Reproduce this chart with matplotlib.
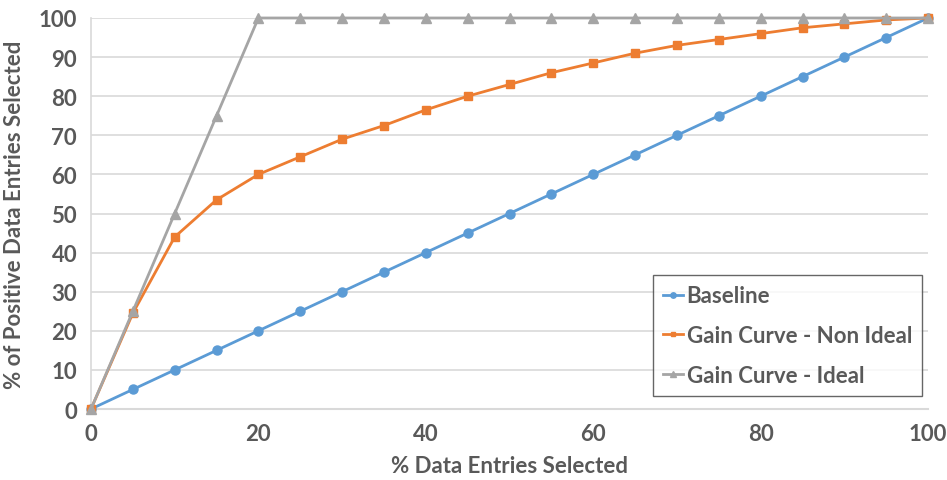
import matplotlib
matplotlib.use('Agg')
import matplotlib.pyplot as plt

# Dati
x_pct = [0, 5, 10, 15, 20, 25, 30, 35, 40, 45, 50, 55, 60, 65, 70, 75, 80, 85, 90, 95, 100]
baseline = [0, 5, 10, 15, 20, 25, 30, 35, 40, 45, 50, 55, 60, 65, 70, 75, 80, 85, 90, 95, 100]
non_ideal = [0, 24.5, 44, 53.5, 60, 64.5, 69, 72.5, 76.5, 80, 83, 86, 88.5, 91, 93, 94.5, 96, 97.5, 98.5, 99.5, 100]
ideal = [0, 25, 50, 75, 100, 100, 100, 100, 100, 100, 100, 100, 100, 100, 100, 100, 100, 100, 100, 100, 100]
x_ticks = [0, 20, 40, 60, 80, 100]
y_ticks = [0, 10, 20, 30, 40, 50, 60, 70, 80, 90, 100]

plt.rcParams['font.family'] = ['Lato', 'DejaVu Sans']
plt.rcParams['font.weight'] = 'bold'
text_col = '#595959'

fig = plt.figure(figsize=(9.47, 4.81), dpi=100)
ax = fig.add_axes([0.0961, 0.1476, 0.8839, 0.8129])

ax.plot(x_pct, baseline, color='#5B9BD5', lw=2, marker='o', markersize=6.5, label='Baseline', zorder=3)
ax.plot(x_pct, non_ideal, color='#ED7D31', lw=2, marker='s', markersize=6, label='Gain Curve - Non Ideal', zorder=4)
ax.plot(x_pct, ideal, color='#A5A5A5', lw=2, marker='^', markersize=6.5, label='Gain Curve - Ideal', zorder=5)

ax.set_xlim(0, 100)
ax.set_ylim(0, 100)
ax.set_xticks(x_ticks)
ax.set_yticks(y_ticks)
ax.tick_params(length=0, labelsize=16, labelcolor=text_col, pad=10)
ax.yaxis.grid(True, color='#D9D9D9', lw=1.2)
ax.set_axisbelow(True)
for side in ['top', 'right']:
    ax.spines[side].set_visible(False)
ax.spines['left'].set_color('#D9D9D9')
ax.spines['bottom'].set_color('#D9D9D9')
ax.spines['bottom'].set_linewidth(1.5)
ax.spines['left'].set_linewidth(1.2)
for ln in ax.lines:
    ln.set_clip_on(False)

ax.set_xlabel('% Data Entries Selected', fontsize=16, fontweight='bold', color=text_col, labelpad=8)
ax.set_ylabel('% of Positive Data Entries Selected', fontsize=16, fontweight='bold', color=text_col, labelpad=10)

leg = ax.legend(loc='lower right', bbox_to_anchor=(0.9928, 0.033), fontsize=16, frameon=True,
                fancybox=False, edgecolor='#404040', handlelength=0.9, handletextpad=0.15,
                labelspacing=0.85, borderpad=0.45, borderaxespad=0.0, markerscale=0.6)
leg.get_frame().set_linewidth(1.0)
for t in leg.get_texts():
    t.set_color(text_col)

fig.savefig('out.png', dpi=100)
